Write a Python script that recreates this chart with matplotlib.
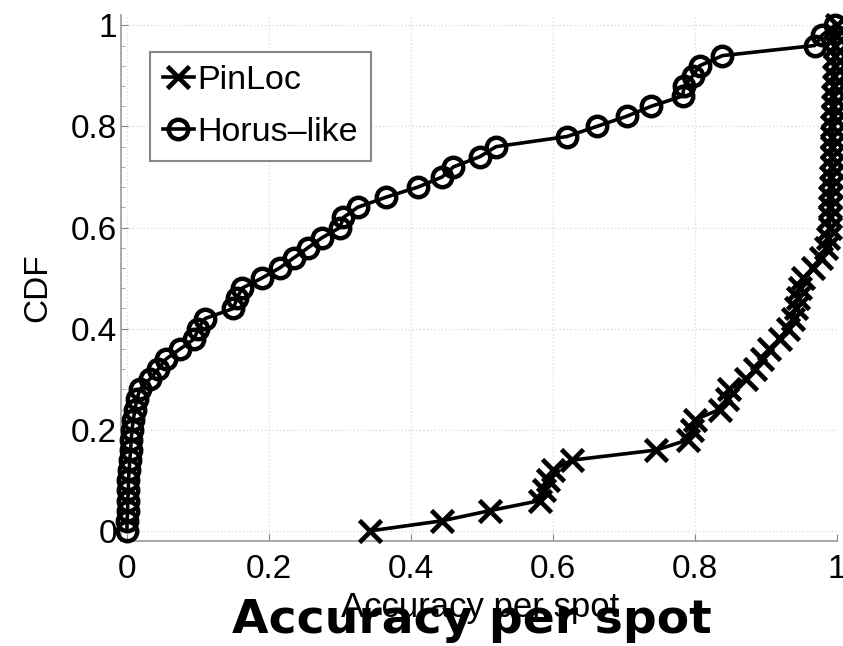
import matplotlib.pyplot as plt
from matplotlib.ticker import MultipleLocator

### Daten (CDF-Stufen, gleiche Stufen fuer beide Kurven)
cdfLevels = [0.00, 0.02, 0.04, 0.06, 0.08, 0.10, 0.12, 0.14, 0.16, 0.18,
             0.20, 0.22, 0.24, 0.26, 0.28, 0.30, 0.32, 0.34, 0.36, 0.38,
             0.40, 0.42, 0.44, 0.46, 0.48, 0.50, 0.52, 0.54, 0.56, 0.58,
             0.60, 0.62, 0.64, 0.66, 0.68, 0.70, 0.72, 0.74, 0.76, 0.78,
             0.80, 0.82, 0.84, 0.86, 0.88, 0.90, 0.92, 0.94, 0.96, 0.98,
             1.00]

pinLoc = [0.342, 0.444, 0.511, 0.582, 0.588, 0.593, 0.600, 0.627, 0.746, 0.790,
          0.796, 0.800, 0.835, 0.845, 0.848, 0.872, 0.885, 0.895, 0.905, 0.920,
          0.932, 0.938, 0.942, 0.945, 0.948, 0.953, 0.966, 0.978, 0.985, 0.988,
          0.990, 0.990, 0.991, 0.991, 0.992, 0.992, 0.993, 0.993, 0.993, 0.994,
          0.994, 0.995, 0.995, 0.995, 0.996, 0.996, 0.997, 0.997, 0.998, 0.999,
          1.000]

horus = [0.000, 0.000, 0.001, 0.001, 0.002, 0.002, 0.003, 0.004, 0.005, 0.006,
         0.007, 0.009, 0.011, 0.014, 0.018, 0.032, 0.044, 0.055, 0.075, 0.095,
         0.100, 0.110, 0.150, 0.155, 0.162, 0.190, 0.215, 0.235, 0.255, 0.275,
         0.300, 0.305, 0.325, 0.365, 0.410, 0.444, 0.460, 0.497, 0.520, 0.620,
         0.662, 0.704, 0.739, 0.783, 0.785, 0.797, 0.807, 0.839, 0.969, 0.979,
         0.997]

tickPos    = [0, 0.2, 0.4, 0.6, 0.8, 1]
tickLabels = ["0", "0.2", "0.4", "0.6", "0.8", "1"]

### Figur
plt.rcParams['font.family'] = ['Liberation Sans', 'DejaVu Sans']
fig = plt.figure(figsize=(8.43, 6.46), dpi=100)
ax  = fig.add_axes([0.1435, 0.1625, 0.849, 0.814])

ax.plot(pinLoc, cdfLevels, color="k", lw=2.6, marker="x", ms=16, mew=3.4,
        label="PinLoc", clip_on=False, zorder=3)
ax.plot(horus, cdfLevels, color="k", lw=2.6, marker="o", ms=14, mew=3.2,
        mfc="none", label="Horus\u2013like", clip_on=False, zorder=3)

ax.set_xlim(-0.0085, 1.0)
ax.set_ylim(-0.02, 1.02)
ax.set_xticks(tickPos)
ax.set_xticklabels(tickLabels)
ax.set_yticks(tickPos)
ax.set_yticklabels(tickLabels)
ax.yaxis.set_minor_locator(MultipleLocator(0.04))

ax.tick_params(axis="both", which="major", direction="in", length=5,
               labelsize=24, color="#888888")
ax.tick_params(axis="x", pad=9)
ax.tick_params(axis="y", pad=3)
ax.tick_params(axis="y", which="minor", direction="in", length=3, color="#999999")

# nur linke und untere Achse, duenne graue Punktgitter
for side in ["top", "right"]:
    ax.spines[side].set_visible(False)
for side in ["left", "bottom"]:
    ax.spines[side].set_color("#999999")
    ax.spines[side].set_linewidth(1.2)
ax.grid(True, which="major", linestyle=":", color="#dddddd", lw=1.0)
ax.set_axisbelow(True)

leg = ax.legend(loc="upper left", bbox_to_anchor=(0.0405, 0.93), borderaxespad=0,
                fontsize=24.5, handlelength=0.9, handletextpad=0.12,
                borderpad=0.38, labelspacing=0.62, fancybox=False, framealpha=1)
leg.get_frame().set_edgecolor("#888888")
leg.get_frame().set_linewidth(1.5)

# Achsenbeschriftungen
fig.text(38/843, 1 - 288/646, "CDF", rotation=90, ha="center", va="center", fontsize=24)
fig.text(480/843, 29/646, "Accuracy per spot", ha="center", va="baseline", fontsize=25)
fig.text(472/843, 13/646, "Accuracy per spot", ha="center", va="baseline",
         fontsize=34, fontweight="bold", family="DejaVu Sans")

plt.savefig("out.png", dpi=100)
